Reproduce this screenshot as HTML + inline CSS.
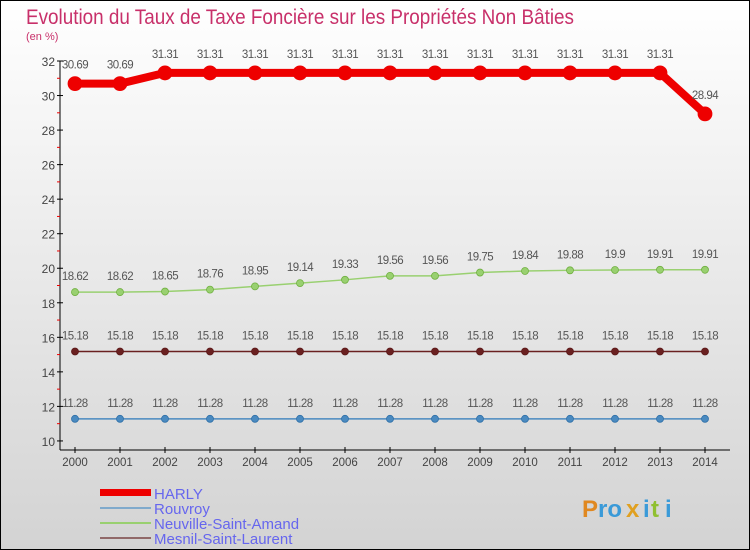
<!DOCTYPE html>
<html><head><meta charset="utf-8"><style>
body{margin:0;width:750px;height:550px;overflow:hidden}
svg{display:block;font-family:"Liberation Sans",sans-serif}
</style></head><body>
<svg id="s" width="750" height="550" xmlns="http://www.w3.org/2000/svg">
<defs><linearGradient id="bg" x1="0" y1="0" x2="0" y2="1"><stop offset="0" stop-color="#ffffff"/><stop offset="1" stop-color="#d3d3d3"/></linearGradient></defs>
<rect x="0.5" y="0.5" width="749" height="549" fill="url(#bg)" stroke="#000"/>
<text x="26" y="24" font-size="21" fill="#c8306a" textLength="548" lengthAdjust="spacingAndGlyphs">Evolution du Taux de Taxe Foncière sur les Propriétés Non Bâties</text>
<text x="26" y="40" font-size="11" fill="#c8306a">(en %)</text>
<g id="g"></g>
<g font-size="15" fill="#6666ee">
<rect x="100" y="489" width="51" height="7" fill="#e00"/>
<text x="154" y="499">HARLY</text>
<rect x="100" y="507" width="51" height="2" fill="#80aacc"/>
<text x="154" y="514">Rouvroy</text>
<rect x="100" y="522" width="51" height="2" fill="#99d070"/>
<text x="154" y="529">Neuville-Saint-Amand</text>
<rect x="100" y="537" width="51" height="2" fill="#906868"/>
<text x="154" y="544">Mesnil-Saint-Laurent</text>
</g>
<g font-size="24" font-weight="bold">
<text x="582" y="517" fill="#e08820">P</text><text x="598" y="517" fill="#3a9ad8">ro</text><text x="626" y="517" fill="#e0a020">x</text><text x="643" y="517" fill="#3a9ad8">i</text><text x="651" y="517" fill="#90c030">t</text><text x="665" y="517" fill="#3a9ad8">i</text>
</g>
</svg>
<script>
var g=document.getElementById('g'),h='';
function Y(v){return 61+(32-v)*17.27}
function X(i){return 75+45*i}
h+='<line x1="60" y1="61" x2="60" y2="450" stroke="#000"/><line x1="60" y1="450" x2="730" y2="450" stroke="#000"/>';
for(var v=10;v<=32;v++){var y=Y(v);
 if(v%2==0){h+='<line x1="57" y1="'+y+'" x2="63" y2="'+y+'" stroke="#000"/><text x="55" y="'+(y+5)+'" font-size="12" fill="#444" text-anchor="end">'+v+'</text>';}
 else h+='<line x1="57" y1="'+y+'" x2="60" y2="'+y+'" stroke="#e00"/>';}
for(var i=0;i<15;i++){h+='<line x1="'+X(i)+'" y1="447" x2="'+X(i)+'" y2="453" stroke="#000"/><text x="'+X(i)+'" y="466" font-size="11.5" fill="#444" text-anchor="middle">'+(2000+i)+'</text>';}
var S=[
 {c:'#4a8ac0',d:'#3070a8',w:1.5,r:3.5,v:Array(15).fill(11.28)},
 {c:'#6a2020',d:'#5a1818',w:1.5,r:3.5,v:Array(15).fill(15.18)},
 {c:'#99d070',d:'#70b040',w:1.5,r:3.5,v:[18.62,18.62,18.65,18.76,18.95,19.14,19.33,19.56,19.56,19.75,19.84,19.88,19.9,19.91,19.91]},
 {c:'#e00',d:'#e00',w:8,r:7,v:[30.69,30.69,31.31,31.31,31.31,31.31,31.31,31.31,31.31,31.31,31.31,31.31,31.31,31.31,28.94]}];
S.forEach(function(s){var p=s.v.map(function(v,i){return X(i)+','+Y(v)}).join(' ');
 h+='<polyline points="'+p+'" fill="none" stroke="'+s.c+'" stroke-width="'+s.w+'"/>';
 s.v.forEach(function(v,i){h+='<circle cx="'+X(i)+'" cy="'+Y(v)+'" r="'+s.r+'" fill="'+s.c+'" stroke="'+s.d+'" stroke-width="0.8"/>';
  var ty=Y(v)-(s.r>5?15:12);
  h+='<text x="'+X(i)+'" y="'+ty+'" font-size="11.5" fill="#555" text-anchor="middle" letter-spacing="-0.5">'+v+'</text>';});});
g.innerHTML=h;
</script>
</body></html>
